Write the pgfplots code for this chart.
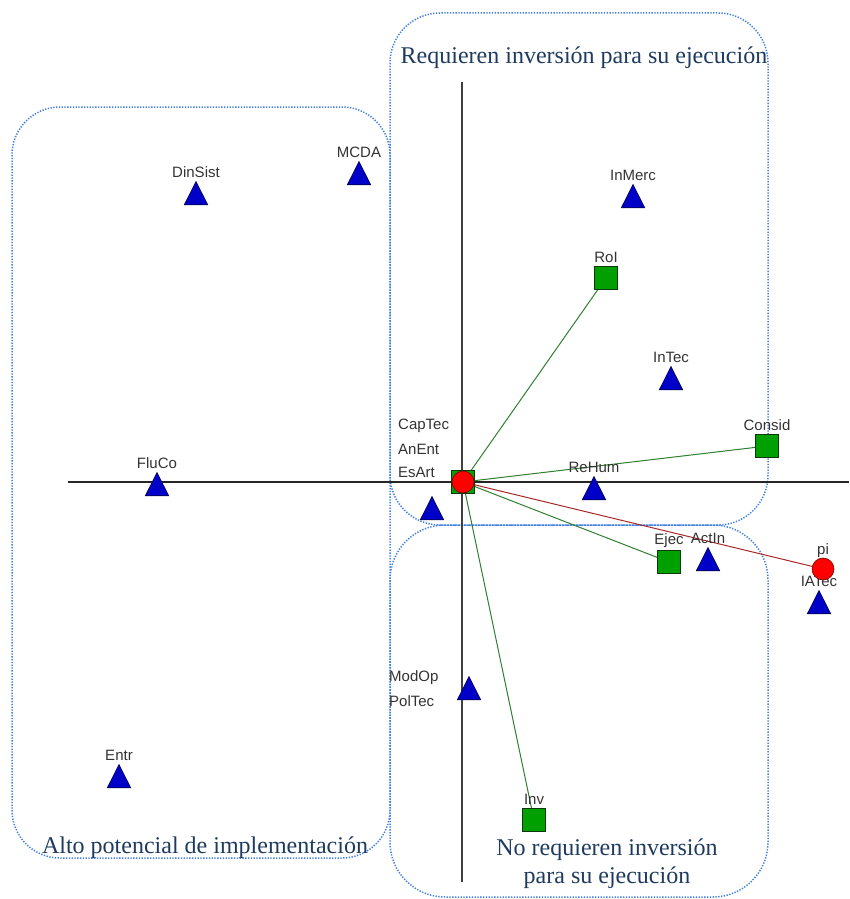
\documentclass[border=0pt]{standalone}
\usepackage{pgfplots}
\pgfplotsset{compat=1.18}
\usepackage{pgfplotstable}
\usepackage{fontspec}
\setmainfont{Liberation Serif}
\newfontfamily\lab{Liberation Sans}
\definecolor{boxblue}{HTML}{3F7FE0}
\definecolor{capt}{HTML}{1F3A5F}
\definecolor{labc}{HTML}{333333}
\definecolor{tri}{HTML}{0000C8}
\definecolor{trid}{HTML}{000050}
\definecolor{sqg}{HTML}{00A000}
\definecolor{sqd}{HTML}{0A3A0A}
\definecolor{cred}{HTML}{FF0000}
\definecolor{credd}{HTML}{7A0000}
\definecolor{vgreen}{HTML}{2F802F}
\definecolor{vred}{HTML}{A82828}

% pixel coordinates (y grows downwards)
\pgfplotstableread{
x y name
196 197 DinSist
359 177 MCDA
633 200 InMerc
671 382 InTec
157 488 FluCo
594 492 ReHum
708 563 ActIn
819 606 IATec
119 780 Entr
}\labtri
\pgfplotstableread{
x y
432 512
469 692
}\grouptri
\pgfplotstableread{
x y name
606 278 RoI
767 446 Consid
669 562 Ejec
534 820 Inv
}\squares

\begin{document}
\begin{tikzpicture}
\begin{axis}[scale only axis, width=849pt, height=899pt,
  xmin=0, xmax=849, ymin=0, ymax=899, y dir=reverse,
  hide axis, clip=false,
  nodes near coords style={font=\lab\fontsize{15}{17}\selectfont, text=labc, anchor=center, inner sep=0pt}]
\path (axis cs:0,0) rectangle (axis cs:849,899);
% regions
\draw[boxblue, line width=1.5pt, dash pattern=on 1.3pt off 1.5pt, rounded corners=48pt] (axis cs:12,107) rectangle (axis cs:390,858);
\draw[boxblue, line width=1.5pt, dash pattern=on 1.3pt off 1.5pt, rounded corners=50pt] (axis cs:390,13) rectangle (axis cs:768,525);
\draw[boxblue, line width=1.5pt, dash pattern=on 1.3pt off 1.5pt, rounded corners=55pt] (axis cs:390,525) rectangle (axis cs:768,897);
% GAIA axes
\draw[black!85, line width=1.4pt] (axis cs:68,482) -- (axis cs:849,482);
\draw[black!75, line width=1.4pt] (axis cs:462,82) -- (axis cs:462,882);
% criteria vectors
\addplot[vgreen, line width=1pt] coordinates {(463,482) (606,278)};
\addplot[vgreen, line width=1pt] coordinates {(463,482) (767,446)};
\addplot[vgreen, line width=1pt] coordinates {(463,482) (669,562)};
\addplot[vgreen, line width=1pt] coordinates {(463,482) (534,820)};
\addplot[vred, line width=1pt] coordinates {(463,482) (823,569)};
% actions
\addplot[only marks, mark=triangle*, mark size=13.5pt, fill=tri, draw=trid, line width=0.6pt,
  every mark/.append style={yscale=1.15},
  nodes near coords, point meta=explicit symbolic,
  every node near coord/.append style={yshift=24.5pt}] table[x=x, y=y, meta=name] {\labtri};
\addplot[only marks, mark=triangle*, mark size=13.5pt, fill=tri, draw=trid, line width=0.6pt,
  every mark/.append style={yscale=1.15}] table[x=x, y=y] {\grouptri};
\addplot[only marks, mark=square*, mark size=11.5pt, fill=sqg, draw=sqd, line width=0.8pt] coordinates {(463,482)};
\addplot[only marks, mark=square*, mark size=11.5pt, fill=sqg, draw=sqd, line width=0.8pt,
  nodes near coords, point meta=explicit symbolic,
  every node near coord/.append style={yshift=21pt}] table[x=x, y=y, meta=name] {\squares};
\addplot[only marks, mark=*, mark size=11pt, fill=cred, draw=credd, line width=0.6pt] coordinates {(463,482)};
\addplot[only marks, mark=*, mark size=11pt, fill=cred, draw=credd, line width=0.6pt,
  nodes near coords, point meta=explicit symbolic,
  every node near coord/.append style={yshift=18pt}] coordinates {(823,569) [pi]};
% stacked labels of coincident actions
\begin{scope}[font=\lab\fontsize{15}{17}\selectfont, text=labc, inner sep=0pt]
\node[anchor=west] at (axis cs:398,426) {CapTec};
\node[anchor=west] at (axis cs:398,449) {AnEnt};
\node[anchor=west] at (axis cs:398,472) {EsArt};
\node[anchor=west] at (axis cs:389,678) {ModOp};
\node[anchor=west] at (axis cs:389,701) {PolTec};
\end{scope}
% region captions
\begin{scope}[font=\fontsize{24}{26}\selectfont, text=capt, inner sep=0pt]
\node at (axis cs:584,58) {Requieren inversión para su ejecución};
\node at (axis cs:205,848) {Alto potencial de implementación};
\node at (axis cs:607,850) {No requieren inversión};
\node at (axis cs:607,878) {para su ejecución};
\end{scope}
\end{axis}
\end{tikzpicture}
\end{document}
